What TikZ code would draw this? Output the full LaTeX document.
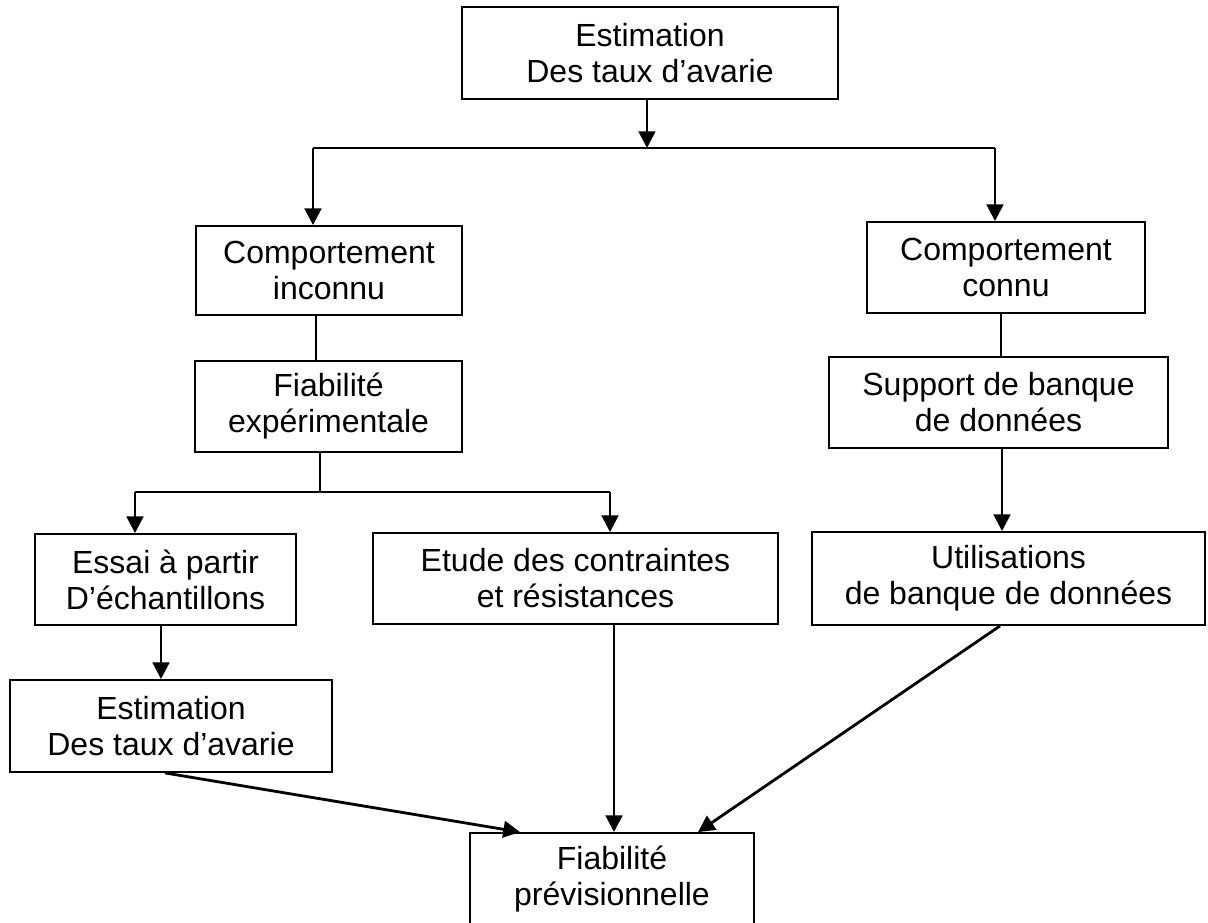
\documentclass[tikz,border=0pt]{standalone}
\usepackage{fontspec}
\setmainfont{Liberation Sans}
\usetikzlibrary{arrows.meta}

\begin{document}
\begin{tikzpicture}[x=0.75pt,y=-0.75pt,
  box/.style={draw,line width=1.4pt,align=center,inner sep=0pt,
    font=\fontsize{24}{27}\selectfont},
  arr/.style={line width=2.1pt,-{Triangle[length=12.5pt,width=12.5pt]}},
  link/.style={line width=1pt},
  bar/.style={line width=2pt}]
\useasboundingbox (0,0) rectangle (1208,923);

% boxes
\node[box,line width=2pt,minimum width=282pt,minimum height=69pt] (t) at (650,53) {Estimation\\Des taux d’avarie};
\node[box,minimum width=199.5pt,minimum height=66.75pt] (ci) at (329,270.5) {Comportement\\inconnu};
\node[box,minimum width=208.5pt,minimum height=68.25pt] (ck) at (1006,267.5) {Comportement\\connu};
\node[box,minimum width=200.25pt,minimum height=68.25pt] (fe) at (328.5,406.5) {Fiabilité\\expérimentale};
\node[box,minimum width=254.25pt,minimum height=68.25pt] (sb) at (998.5,402.5) {Support de banque\\de données};
\node[box,minimum width=195.75pt,minimum height=68.25pt] (es) at (165.5,579.5) {Essai à partir\\D’échantillons};
\node[box,minimum width=303.75pt,minimum height=68.25pt] (et) at (575.5,578.5) {Etude des contraintes\\et résistances};
\node[box,minimum width=294.75pt,minimum height=69.75pt] (ub) at (1008.5,578.5) {Utilisations\\de banque de données};
\node[box,minimum width=241.5pt,minimum height=69pt] (est) at (171,726) {Estimation\\Des taux d’avarie};
\node[box,minimum width=213pt,minimum height=69pt] (fp) at (612,879) {Fiabilité\\prévisionnelle};

% junction points of the two splits
\coordinate (j1) at (647,148);
\coordinate (jl) at (313,148);
\coordinate (jr) at (995,148);
\coordinate (j2) at (320,492);
\coordinate (jl2) at (135,492);
\coordinate (jr2) at (610,492);

% first split
\draw[arr] (t.south -| j1) -- (j1);
\draw[bar] (jl) -- (jr);
\draw[arr] (jl) -- (jl |- ci.north);
\draw[arr] (jr) -- (jr |- ck.north);

% left branch
\draw[link] ([xshift=-9.75pt]ci.south) -- ([xshift=-9.75pt]ci.south |- fe.north);
\draw[link] (fe.south -| j2) -- (j2);
\draw[link] (jl2) -- (jr2);
\draw[arr] (jl2) -- (jl2 |- es.north);
\draw[arr] (jr2) -- (jr2 |- et.north);
\draw[arr] ([xshift=-3.375pt]es.south) -- ([xshift=-3.375pt]es.south |- est.north);

% right branch
\draw[link] ([xshift=-3.75pt]ck.south) -- ([xshift=-3.75pt]ck.south |- sb.north);
\draw[arr] ([xshift=2.625pt]sb.south) -- ([xshift=2.625pt]sb.south |- ub.north);

% convergence
\draw[arr] ([xshift=-4.5pt]est.south) -- ([xshift=-69pt]fp.north);
\draw[arr] ([xshift=28.875pt]et.south) -- ([xshift=28.875pt]et.south |- fp.north);
\draw[arr] ([xshift=-6.375pt]ub.south) -- ([xshift=64.5pt]fp.north);
\end{tikzpicture}
\end{document}
